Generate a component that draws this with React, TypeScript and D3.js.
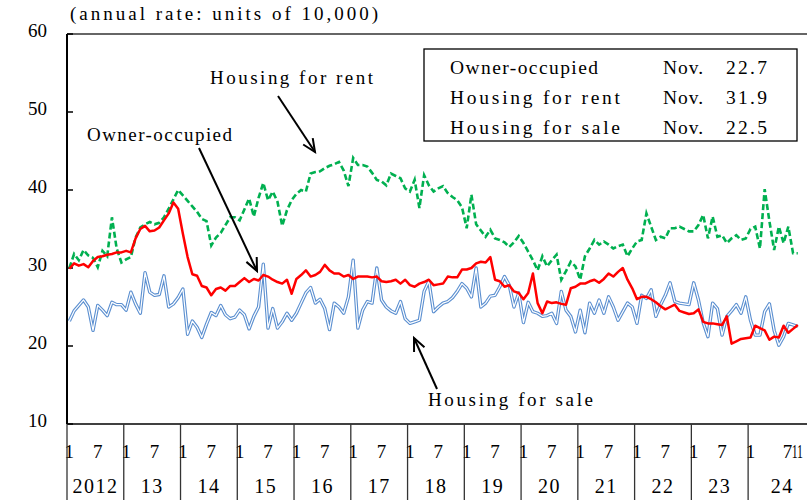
import React from "react";
import * as d3 from "d3";

// housing starts, seasonally adjusted annual rate (units of 10,000), Jan 2012 - Nov 2024
const years = ["2012", "13", "14", "15", "16", "17", "18", "19", "20", "21", "22", "23", "24"];

const owner = [
  29.9, 30.6, 30.3, 30.5, 30.1, 30.9, 31.4, 31.5, 31.7, 31.8,
  32.0, 32.0, 32.2, 32.0, 33.8, 35.0, 35.4, 34.7, 34.8, 35.2,
  36.1, 37.0, 38.4, 37.6, 34.4, 31.4, 29.2, 29.0, 27.7, 27.5,
  26.5, 27.3, 27.5, 27.1, 27.7, 27.7, 28.2, 28.7, 28.2, 28.6,
  28.4, 29.1, 28.9, 28.5, 28.2, 28.0, 28.5, 26.7, 28.6, 29.1,
  29.7, 28.9, 29.1, 29.5, 30.4, 29.7, 29.3, 29.3, 28.9, 29.1,
  28.6, 28.9, 28.9, 28.9, 28.8, 28.9, 28.3, 28.2, 28.3, 28.5,
  28.0, 28.5, 27.8, 27.6, 28.0, 28.2, 28.5, 27.8, 27.9, 28.0,
  28.9, 28.8, 28.8, 29.8, 29.8, 30.0, 30.6, 30.8, 30.7, 31.4,
  28.5, 28.3, 27.6, 27.8, 27.0, 26.8, 26.0, 26.8, 29.3, 25.5,
  24.2, 25.7, 25.5, 25.6, 25.4, 25.3, 27.4, 27.6, 28.0, 28.0,
  28.3, 28.5, 28.1, 28.6, 29.3, 28.9, 29.5, 30.0, 28.5, 27.4,
  26.0, 26.3, 26.3, 26.0, 25.6, 25.1, 24.7, 25.0, 25.3, 24.5,
  24.3, 24.1, 24.2, 24.7, 23.1, 22.9, 22.9, 22.8, 22.7, 23.8,
  20.3, 20.6, 20.9, 21.0, 21.1, 22.6, 22.3, 22.0, 20.8, 21.2,
  21.1, 22.6, 21.7, 22.2, 22.7,
];

const rent = [
  30.0, 31.8, 31.0, 32.3, 31.6, 31.3, 30.1, 32.2, 31.5, 36.5,
  32.5, 30.7, 31.1, 31.4, 33.9, 35.2, 35.6, 35.9, 35.6, 35.8,
  36.5, 37.6, 38.8, 40.0, 39.3, 38.6, 37.9, 37.2, 36.3, 36.0,
  32.9, 33.9, 34.5, 35.5, 36.5, 36.5, 36.1, 37.5, 38.9, 36.6,
  39.0, 40.9, 38.7, 39.8, 38.5, 35.4, 37.4, 38.7, 39.5, 40.0,
  39.8, 42.1, 42.3, 42.4, 42.8, 43.1, 43.3, 43.6, 42.5, 40.5,
  44.1, 43.2, 43.2, 43.0, 42.2, 41.3, 41.1, 40.6, 42.1, 41.8,
  41.5, 40.2, 39.8, 41.3, 37.7, 41.9, 40.6, 39.8, 40.2, 40.5,
  39.6, 39.1, 38.7, 37.8, 35.1, 39.4, 35.6, 34.8, 34.0, 34.9,
  33.8, 33.6, 33.3, 32.7, 33.3, 34.1, 33.2, 32.1, 31.0, 29.7,
  31.5, 30.2, 31.0, 31.7, 28.5, 29.6, 30.8, 30.2, 28.5, 31.5,
  32.5, 33.6, 33.0, 33.4, 33.0, 32.5, 32.8, 33.0, 31.5, 32.5,
  33.4, 33.6, 37.0, 35.3, 33.6, 34.0, 33.8, 35.1, 35.1, 35.3,
  35.0, 34.7, 34.7, 35.5, 36.8, 33.8, 36.6, 34.0, 34.2, 33.2,
  33.8, 34.2, 33.6, 33.8, 35.0, 35.3, 32.5, 40.1, 36.0, 32.3,
  35.3, 33.2, 35.3, 31.9, 31.9,
];

const sale = [
  23.2, 24.5, 25.2, 25.9, 25.0, 22.0, 25.2, 24.6, 23.9, 25.6,
  25.3, 25.3, 24.6, 26.9, 25.4, 24.2, 29.4, 26.9, 26.5, 26.6,
  29.0, 25.0, 25.4, 26.2, 27.3, 21.5, 23.2, 22.4, 21.1, 22.8,
  24.3, 23.9, 25.2, 24.0, 23.5, 23.7, 24.6, 24.0, 22.2, 23.8,
  25.0, 30.5, 22.3, 24.8, 22.3, 23.1, 24.2, 23.3, 24.2, 25.5,
  26.8, 27.5, 25.5, 26.0, 24.8, 22.1, 25.5, 25.0, 24.2, 26.3,
  31.0, 22.3, 24.6, 25.7, 25.5, 30.0, 25.9, 25.0, 24.5, 24.2,
  25.7, 23.5, 22.9, 23.1, 23.3, 27.0, 28.3, 24.4, 25.0, 25.5,
  25.7, 26.2, 27.0, 28.0, 27.4, 26.3, 30.0, 25.0, 25.5, 26.4,
  26.5, 27.6, 28.9, 27.8, 25.0, 26.8, 23.0, 25.6, 24.4, 24.2,
  23.8, 23.9, 24.2, 22.9, 27.0, 24.6, 23.8, 21.8, 24.6, 21.7,
  25.5, 24.2, 25.9, 24.2, 26.3, 25.0, 23.3, 24.4, 25.5, 25.0,
  22.9, 26.5, 26.1, 27.2, 23.8, 25.3, 26.5, 28.1, 25.7, 25.5,
  25.4, 25.3, 28.1, 25.9, 23.0, 21.2, 25.5, 24.8, 21.4, 23.8,
  24.5, 25.3, 24.2, 26.3, 23.3, 21.4, 21.4, 24.4, 25.4, 22.0,
  20.1, 21.2, 22.9, 22.7, 22.5,
];

const yTicks = [10, 20, 30, 40, 50, 60];
const legendNames = ["Owner-occupied", "Housing for rent", "Housing for sale"];
const legendMonth = ["Nov.", "Nov.", "Nov."];
const legendValues = ["22.7", "31.9", "22.5"];

const W = 807, H = 500;
const left = 67, top = 34, bottom = 424, step = 4.73;
const serif = "'Liberation Serif', 'Times New Roman', serif";

function Arrow({ x1, y1, x2, y2 }: { x1: number; y1: number; x2: number; y2: number }) {
  const a = Math.atan2(y2 - y1, x2 - x1);
  const len = 14, spread = 0.42;
  const h1 = [x2 - len * Math.cos(a - spread), y2 - len * Math.sin(a - spread)];
  const h2 = [x2 - len * Math.cos(a + spread), y2 - len * Math.sin(a + spread)];
  return (
    <g stroke="#000" strokeWidth={2} fill="none">
      <line x1={x1} y1={y1} x2={x2} y2={y2} />
      <polyline points={`${h1[0]},${h1[1]} ${x2},${y2} ${h2[0]},${h2[1]}`} />
    </g>
  );
}

export default function App() {
  // month index -> left edge of that month's band
  const x = d3.scaleLinear().domain([0, 1]).range([left, left + step]);
  const y = d3.scaleLinear().domain([10, 60]).range([bottom, top]);

  const line = d3.line<number>().x((_, i) => x(i + 0.5)).y((d) => y(d));

  const monthLabels: { label: string; pos: number }[] = [];
  years.forEach((_, k) => {
    if (k < years.length - 1) {
      monthLabels.push({ label: "1", pos: 12 * k + 0.5 });
      monthLabels.push({ label: "7", pos: 12 * k + 6.5 });
    }
  });
  monthLabels.push({ label: "1", pos: 144.5 }, { label: "7", pos: 152.3 });

  return (
    <svg width={W} height={H} style={{ position: "absolute", left: 0, top: 0, background: "#fff" }}>
      <text x={70} y={20} fontFamily={serif} fontSize={19} textLength={308} lengthAdjust="spacing">
        (annual rate: units of 10,000)
      </text>

      {/* frame */}
      <line x1={left} y1={top} x2={W} y2={top} stroke="#333" strokeWidth={1.5} />
      <line x1={left} y1={bottom} x2={W} y2={bottom} stroke="#000" strokeWidth={1.5} />
      <line x1={left} y1={top} x2={left} y2={bottom} stroke="#000" strokeWidth={2} />

      {yTicks.map((t) => (
        <g key={t}>
          <line x1={left} x2={left + 6} y1={y(t)} y2={y(t)} stroke="#000" strokeWidth={1.5} />
          <text x={47} y={y(t) + 3} textAnchor="end" fontFamily={serif} fontSize={19}>
            {t}
          </text>
        </g>
      ))}

      {/* x axis: year separators, month and year labels */}
      {years.map((yr, k) => {
        const x0 = x(12 * k);
        const cx = k < years.length - 1 ? x(12 * k + 6) : x(12 * k + 7.2);
        return (
          <g key={yr}>
            <line x1={x0} x2={x0} y1={bottom} y2={H} stroke="#333" strokeWidth={1.3} />
            <text x={cx} y={493} textAnchor="middle" fontFamily={serif} fontSize={20} letterSpacing={1.5}>
              {yr}
            </text>
          </g>
        );
      })}
      {monthLabels.map((m, i) => (
        <text key={i} x={x(m.pos)} y={458} textAnchor="middle" fontFamily={serif} fontSize={19}>
          {m.label}
        </text>
      ))}
      <text transform={`translate(${x(153.2)},458) scale(0.62,1)`} fontFamily={serif} fontSize={19}>
        11
      </text>

      {/* series */}
      <path d={line(rent) ?? ""} fill="none" stroke="#00B050" strokeWidth={2.6} strokeDasharray="6 3" />
      <path d={line(sale) ?? ""} fill="none" stroke="#5B8FD0" strokeWidth={3.4} strokeLinejoin="round" />
      <path d={line(sale) ?? ""} fill="none" stroke="#fff" strokeWidth={1.2} strokeLinejoin="round" />
      <path d={line(owner) ?? ""} fill="none" stroke="#FF0000" strokeWidth={2.5} strokeLinejoin="round" />

      {/* legend box */}
      <rect x={424} y={49} width={373} height={92} fill="#fff" stroke="#000" strokeWidth={1.3} />
      {legendNames.map((n, i) => (
        <g key={n} fontFamily={serif} fontSize={19.5}>
          <text x={450} y={74 + i * 30} textLength={n.length === 14 ? 148 : 170} lengthAdjust="spacing">
            {n}
          </text>
          <text x={663} y={74 + i * 30} textLength={40} lengthAdjust="spacing">
            {legendMonth[i]}
          </text>
          <text x={726} y={74 + i * 30} textLength={41} lengthAdjust="spacing">
            {legendValues[i]}
          </text>
        </g>
      ))}

      {/* annotations */}
      <text x={210} y={84} fontFamily={serif} fontSize={19} textLength={163} lengthAdjust="spacing">
        Housing for rent
      </text>
      <Arrow x1={278} y1={96} x2={315} y2={152} />
      <text x={87} y={141} fontFamily={serif} fontSize={19} textLength={145} lengthAdjust="spacing">
        Owner-occupied
      </text>
      <Arrow x1={199} y1={148} x2={257} y2={271} />
      <text x={428} y={406} fontFamily={serif} fontSize={19} textLength={165} lengthAdjust="spacing">
        Housing for sale
      </text>
      <Arrow x1={437} y1={389} x2={414} y2={338} />
    </svg>
  );
}
